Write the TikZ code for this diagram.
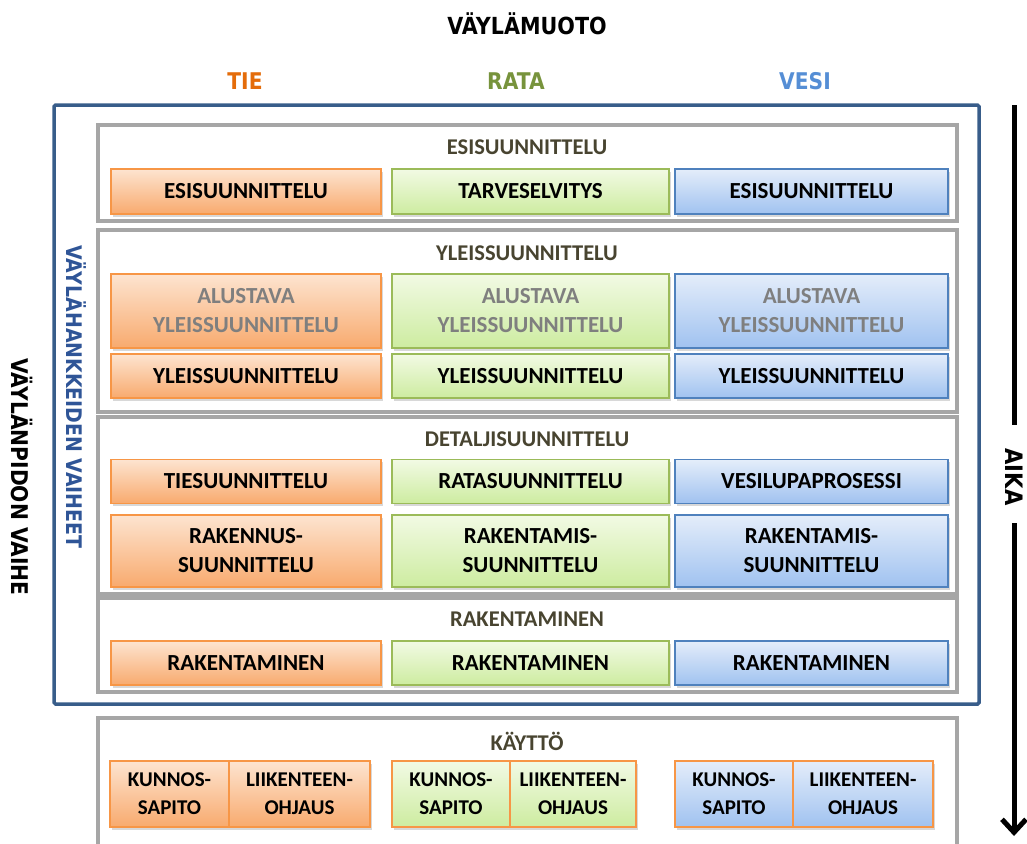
\documentclass[tikz,border=0pt]{standalone}
\usepackage{fontspec}
\setmainfont{Carlito}
\newfontfamily\hdfont[FakeStretch=0.88]{DejaVu Sans}
\usetikzlibrary{shadows,arrows.meta}
\definecolor{orTop}{RGB}{253,228,208}
\definecolor{orBot}{RGB}{248,170,110}
\definecolor{orBd}{RGB}{247,150,70}
\definecolor{grTop}{RGB}{242,250,228}
\definecolor{grBot}{RGB}{205,236,160}
\definecolor{grBd}{RGB}{155,187,89}
\definecolor{blTop}{RGB}{228,237,250}
\definecolor{blBot}{RGB}{160,194,240}
\definecolor{blBd}{RGB}{79,129,189}
\definecolor{tieC}{RGB}{228,108,10}
\definecolor{rataC}{RGB}{119,147,60}
\definecolor{vesiC}{RGB}{85,142,213}
\definecolor{outerC}{RGB}{56,93,138}
\definecolor{vhC}{RGB}{47,85,151}
\definecolor{grpC}{RGB}{166,166,166}
\definecolor{lblC}{RGB}{72,68,48}
\definecolor{alC}{RGB}{127,127,127}
\begin{document}
\begin{tikzpicture}[x=1pt,y=-1pt,
  base/.style={inner sep=0pt, align=center, line width=1.2pt,
    font=\fontsize{23}{29}\selectfont\bfseries,
    drop shadow={opacity=0.3,shadow xshift=1.5pt,shadow yshift=-2.5pt}},
  tiebox/.style={base, draw=orBd, top color=orTop, bottom color=orBot},
  ratabox/.style={base, draw=grBd, top color=grTop, bottom color=grBot},
  vesibox/.style={base, draw=blBd, top color=blTop, bottom color=blBot},
  colT/.style={minimum width=270pt},
  colR/.style={minimum width=277pt},
  colV/.style={minimum width=273pt},
  kbox/.style={font=\fontsize{21}{28}\selectfont\bfseries, draw=orBd, minimum height=66pt},
  grp/.style={draw=grpC, line width=4pt, fill=white, minimum width=859pt,
    drop shadow={opacity=0.25,shadow xshift=1pt,shadow yshift=-2pt}},
  grplbl/.style={text=lblC, font=\fontsize{22.5}{26}\selectfont\bfseries},
  hd/.style={font=\hdfont\bfseries\fontsize{23}{26}\selectfont, inner sep=0pt},
  aline/.style={line width=5pt}
]
\useasboundingbox (0,0) rectangle (1027,843);

% headings
\node[hd, font=\hdfont\bfseries\fontsize{23.5}{26}\selectfont] (title) at (527,24) {VÄYLÄMUOTO};
\node[hd, text=tieC] (tie) at (245,81) {TIE};
\node[hd, text=rataC] (rata) at (516,81) {RATA};
\node[hd, text=vesiC] (vesi) at (805,81) {VESI};

% outer blue frame
\node[draw=outerC, line width=3.5pt, minimum width=925pt, minimum height=599pt, rounded corners=1.5pt] (outer) at (516.5,404.5) {};

% side labels
\node[hd, rotate=-90] (vp) at (22,477) {VÄYLÄNPIDON VAIHE};
\node[hd, rotate=-90, text=vhC, font=\hdfont\bfseries\fontsize{21.5}{26}\selectfont] (vh) at (76,397) {VÄYLÄHANKKEIDEN VAIHEET};

% time arrow
\coordinate (a1) at (1014,105);
\coordinate (a2) at (1014,425);
\coordinate (a3) at (1014,523);
\coordinate (a4) at (1014,836);
\draw[aline] (a1) -- (a2);
\node[hd, rotate=-90, font=\hdfont\bfseries\fontsize{24}{26}\selectfont] (aika) at (1014,477) {AIKA};
\draw[aline, -{Straight Barb[length=13pt,width=24pt]}] (a3) -- (a4);

% groups
\node[grp, minimum height=96pt] (g1) at (527.5,173) {};
\node[grp, minimum height=182pt] (g2) at (527.5,321) {};
\node[grp, minimum height=177pt] (g3) at (527.5,505.5) {};
\node[grp, minimum height=94pt] (g4) at (527.5,645) {};
\node[grp, minimum height=142pt] (g5) at (527.5,789) {};

\node[grplbl] (g1l) at (527,147) {ESISUUNNITTELU};
\node[grplbl] (g2l) at (527,253) {YLEISSUUNNITTELU};
\node[grplbl] (g3l) at (527,439) {DETALJISUUNNITTELU};
\node[grplbl] (g4l) at (527,619) {RAKENTAMINEN};
\node[grplbl] (g5l) at (527,741) {KÄYTTÖ};

% row: esisuunnittelu
\node[tiebox, colT, minimum height=45pt] (t1) at (246,191.5) {ESISUUNNITTELU};
\node[ratabox, colR, minimum height=45pt] (r1) at (530.5,191.5) {TARVESELVITYS};
\node[vesibox, colV, minimum height=45pt] (v1) at (811.5,191.5) {ESISUUNNITTELU};

% row: alustava
\node[tiebox, colT, minimum height=74pt, text=alC] (t2) at (246,311) {ALUSTAVA\\YLEISSUUNNITTELU};
\node[ratabox, colR, minimum height=74pt, text=alC] (r2) at (530.5,311) {ALUSTAVA\\YLEISSUUNNITTELU};
\node[vesibox, colV, minimum height=74pt, text=alC] (v2) at (811.5,311) {ALUSTAVA\\YLEISSUUNNITTELU};

% row: yleissuunnittelu
\node[tiebox, colT, minimum height=44pt] (t3) at (246,376) {YLEISSUUNNITTELU};
\node[ratabox, colR, minimum height=44pt] (r3) at (530.5,376) {YLEISSUUNNITTELU};
\node[vesibox, colV, minimum height=44pt] (v3) at (811.5,376) {YLEISSUUNNITTELU};

% row: detalji 1
\node[tiebox, colT, minimum height=44pt] (t4) at (246,481.5) {TIESUUNNITTELU};
\node[ratabox, colR, minimum height=44pt] (r4) at (530.5,481.5) {RATASUUNNITTELU};
\node[vesibox, colV, minimum height=44pt] (v4) at (811.5,481.5) {VESILUPAPROSESSI};

% row: detalji 2
\node[tiebox, colT, minimum height=72pt] (t5) at (246,551) {RAKENNUS-\\SUUNNITTELU};
\node[ratabox, colR, minimum height=72pt] (r5) at (530.5,551) {RAKENTAMIS-\\SUUNNITTELU};
\node[vesibox, colV, minimum height=72pt] (v5) at (811.5,551) {RAKENTAMIS-\\SUUNNITTELU};

% row: rakentaminen
\node[tiebox, colT, minimum height=44pt] (t6) at (246,663) {RAKENTAMINEN};
\node[ratabox, colR, minimum height=44pt] (r6) at (530.5,663) {RAKENTAMINEN};
\node[vesibox, colV, minimum height=44pt] (v6) at (811.5,663) {RAKENTAMINEN};

% row: kaytto
\node[tiebox, kbox, minimum width=119pt] (t7a) at (169.5,794) {KUNNOS-\\SAPITO};
\node[tiebox, kbox, minimum width=141pt] (t7b) at (299.5,794) {LIIKENTEEN-\\OHJAUS};
\node[ratabox, kbox, minimum width=118pt] (r7a) at (451,794) {KUNNOS-\\SAPITO};
\node[ratabox, kbox, minimum width=126pt] (r7b) at (573,794) {LIIKENTEEN-\\OHJAUS};
\node[vesibox, kbox, minimum width=118pt] (v7a) at (734,794) {KUNNOS-\\SAPITO};
\node[vesibox, kbox, minimum width=140pt] (v7b) at (863,794) {LIIKENTEEN-\\OHJAUS};
\end{tikzpicture}
\end{document}
